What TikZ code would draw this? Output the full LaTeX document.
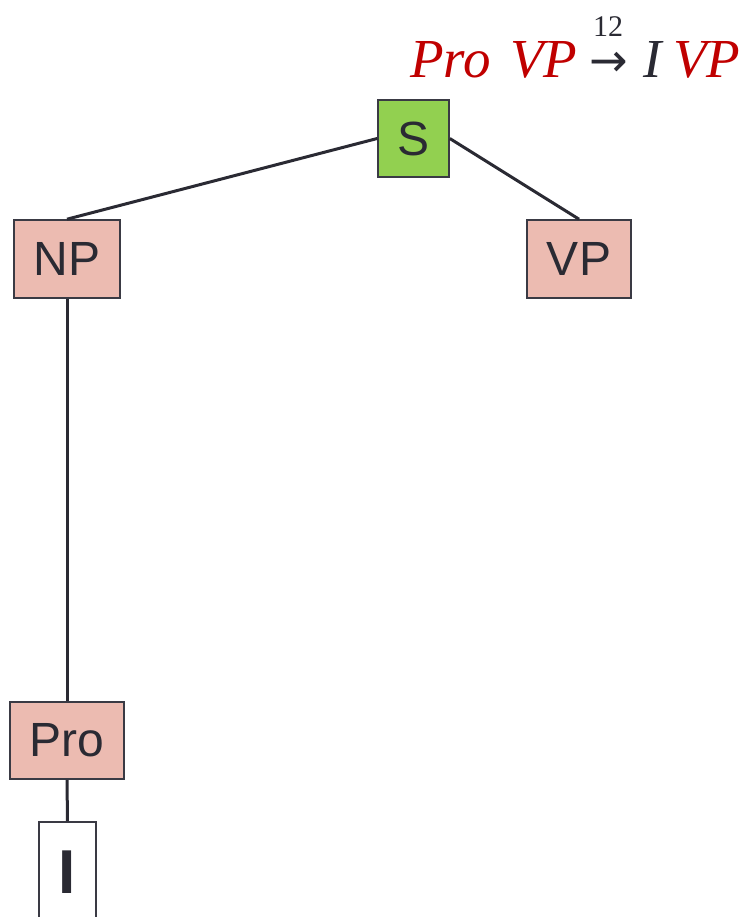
\documentclass[tikz,border=0pt]{standalone}
\usepackage{fontspec}
\setmainfont{Liberation Sans}
\newfontfamily\formulafont{Liberation Serif}
\newfontfamily\arrowfont{DejaVu Sans}
\definecolor{ink}{HTML}{2A2A33}
\definecolor{boxline}{HTML}{3A3A44}
\definecolor{catfill}{HTML}{ECBBB1}
\definecolor{rootfill}{HTML}{92D050}
\definecolor{rulered}{HTML}{C00000}
\tikzset{
  cat/.style={draw=boxline, line width=1.6pt, fill=catfill, inner sep=0pt,
              text=ink, font=\fontsize{48}{48}\selectfont},
  root/.style={cat, fill=rootfill},
  word/.style={draw=boxline, line width=1.6pt, fill=white, inner sep=0pt},
  branch/.style={draw=ink, line width=3pt},
  fpart/.style={anchor=base west, inner sep=0pt,
                font=\formulafont\itshape\fontsize{55}{55}\selectfont}
}
\begin{document}
\begin{tikzpicture}[x=1pt, y=-1pt]
\useasboundingbox (0,0) rectangle (744,917);
\clip (0,0) rectangle (744,917);

% tree nodes
\node[root, minimum width=71pt, minimum height=77pt] (S) at (413.5,138.5) {S};
\node[cat, minimum width=106pt, minimum height=78pt] (NP) at (67,259) {NP};
\node[cat, minimum width=104pt, minimum height=78pt] (VP) at (579,259) {VP};
\node[cat, minimum width=114pt, minimum height=77pt] (Pro) at (67,740.5) {Pro};
\node[word, minimum width=57pt, minimum height=130pt] (I) at (67.5,887) {};
\node[text=ink, inner sep=0pt, font=\bfseries\fontsize{62}{62}\selectfont] (Itext) at (67.5,872.5) {I};

% branches
\draw[branch] (S.west) -- (NP.north);
\draw[branch] (S.east) -- (VP.north);
\draw[branch] (NP.south) -- (Pro.north);
\draw[branch] (Pro.south) -- (I.north);

% rewrite rule
\node[fpart, text=rulered] (f1) at (410,78) {Pro};
\node[fpart, text=rulered] (f2) at (510,78) {VP};
\node[anchor=base, inner sep=0pt, text height=24pt, text depth=0pt, text=ink,
      font=\arrowfont\fontsize{46}{46}\selectfont] (arr) at (609,77) {→};
\node[anchor=base, inner sep=0pt, text depth=0pt, text=ink,
      font=\formulafont\fontsize{30}{30}\selectfont] (num) at (608,37) {12};
\node[fpart, text=ink] (f3) at (643,78) {I};
\node[fpart, text=rulered] (f4) at (673,78) {VP};
\end{tikzpicture}
\end{document}
